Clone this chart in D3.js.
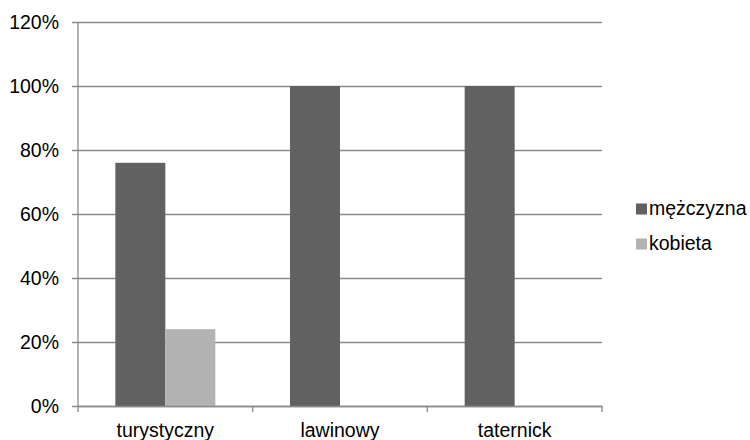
<!DOCTYPE html>
<html>
<head>
<meta charset="utf-8">
<script src="https://cdn.jsdelivr.net/npm/d3@7"></script>
<style>
  body { margin: 0; background: #fff; }
  text { font-family: "Liberation Sans", Arial, Helvetica, sans-serif; fill: #000; }
</style>
</head>
<body>
<svg id="chart" width="750" height="440"></svg>
<script>
// Share of accident types by gender
const categories = ["turystyczny", "lawinowy", "taternick"];
const seriesNames = ["mężczyzna", "kobieta"];
const menValues = [0.76, 1.0, 1.0];
const womenValues = [0.24, 0, 0];
const yTicks = [0, 0.2, 0.4, 0.6, 0.8, 1.0, 1.2];
const colors = ["#616161", "#b3b3b3"];

const svg = d3.select("#chart");
const plot = { left: 78, right: 602, top: 22, bottom: 406 };
const gridColor = "#8a8a8a";
const fontSize = 19.5;
const fontFamily = "Liberation Sans, Arial, sans-serif";

const x = d3.scaleBand().domain(categories).range([plot.left, plot.right]).padding(0);
const y = d3.scaleLinear().domain([0, 1.2]).range([plot.bottom, plot.top]);
const xs = d3.scaleBand().domain(seriesNames).range([0, 100]);

// horizontal gridlines and y axis labels
const yAxis = d3.axisLeft(y).tickValues(yTicks).tickFormat(d3.format(".0%"))
  .tickSize(-(plot.right - plot.left)).tickPadding(19);
const gy = svg.append("g").attr("transform", `translate(${plot.left},0)`).call(yAxis);
gy.select(".domain").remove();
gy.selectAll(".tick line").attr("stroke", gridColor).attr("stroke-width", 1.3)
  .attr("x1", -6);
gy.selectAll(".tick text").attr("font-size", fontSize).attr("font-family", fontFamily);

// vertical axis line
svg.append("line").attr("x1", plot.left).attr("x2", plot.left).attr("y1", plot.top).attr("y2", plot.bottom)
  .attr("stroke", gridColor).attr("stroke-width", 1.3);

// bars
const rows = categories.map((c, i) => ({ cat: c, vals: [menValues[i], womenValues[i]] }));
const groups = svg.append("g").selectAll("g").data(rows).join("g")
  .attr("transform", d => `translate(${x(d.cat) + x.bandwidth() / 2 - 50},0)`);
groups.selectAll("rect")
  .data(d => d.vals.map((v, j) => ({ name: seriesNames[j], v, j })).filter(e => e.v > 0))
  .join("rect")
  .attr("x", d => xs(d.name))
  .attr("width", xs.bandwidth())
  .attr("y", d => y(d.v))
  .attr("height", d => y(0) - y(d.v))
  .attr("fill", d => colors[d.j]);

// x axis with category ticks between groups
const xAxis = d3.axisBottom(x).tickSize(0).tickPadding(17);
const gx = svg.append("g").attr("transform", `translate(0,${plot.bottom})`).call(xAxis);
gx.select(".domain").attr("stroke", gridColor).attr("stroke-width", 1.3);
gx.selectAll(".tick text").attr("font-size", fontSize).attr("font-family", fontFamily)
  .attr("dy", "0.71em");
const boundaries = [plot.left].concat(categories.map(c => x(c) + x.bandwidth()));
gx.selectAll(".sep").data(boundaries).join("line").attr("class", "sep")
  .attr("x1", d => d).attr("x2", d => d).attr("y1", 0).attr("y2", 6)
  .attr("stroke", gridColor).attr("stroke-width", 1.3);

// legend
const legend = svg.append("g").attr("transform", "translate(636,203.5)");
const items = legend.selectAll("g").data(seriesNames).join("g")
  .attr("transform", (d, i) => `translate(0,${i * 35})`);
items.append("rect").attr("width", 11).attr("height", 11).attr("fill", (d, i) => colors[i]);
items.append("text").attr("x", 13).attr("y", 11).attr("font-size", fontSize)
  .attr("font-family", fontFamily).text(d => d);
</script>
</body>
</html>
